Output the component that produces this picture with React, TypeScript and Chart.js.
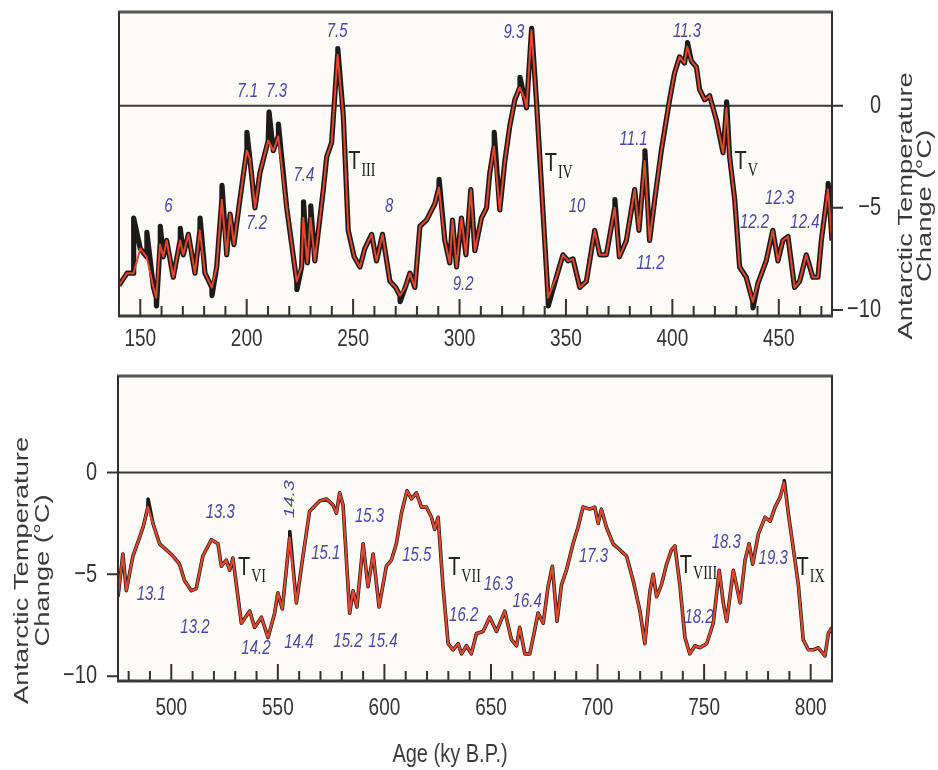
import React, { useEffect, useRef } from "react";
import { Chart, registerables } from "chart.js";

Chart.register(...registerables);

// ---------- DATA ----------
// Top panel (140–475 ky): smoothed (red) record
const topAge = [140, 143.8, 146.8, 150, 153, 156.2, 157.5, 159.3, 160.8, 162.4, 165.5, 168.7, 170.2, 172.6, 175.7, 178, 180.4, 183.6, 185.9, 188.3, 190.6, 192.2, 194, 196.8, 200, 201.5, 203.9, 206.2, 210.1, 212.5, 214.8, 218.8, 223.5, 225.8, 226.6, 228.5, 230, 232, 236, 237.6, 239.9, 242.7, 245.4, 247.7, 250.5, 253.2, 255.5, 258.7, 261, 263.8, 267.3, 270, 272, 274.5, 276.7, 279, 281.4, 284.5, 288.4, 290.3, 293.1, 295.4, 296.7, 298.6, 300.9, 303, 305.3, 307.2, 310.3, 312.7, 314.2, 316.2, 318.9, 321.3, 323.6, 326, 328.3, 330.7, 331.5, 333.8, 336.1, 341.6, 345.5, 348.6, 351, 353.3, 356.5, 359.6, 363.5, 365.9, 369, 372.9, 375.1, 378.4, 382.3, 384.3, 387, 389.3, 391.7, 394.8, 398.7, 401, 403.4, 405.7, 407, 408.9, 411.3, 412.8, 415.2, 417.5, 420.7, 423.8, 425.4, 426.9, 429.3, 431.6, 434.7, 437.8, 440.2, 444.1, 447.2, 449.6, 451.9, 454.3, 457.4, 459.8, 462.9, 466, 468.4, 470, 473.1, 475];
const topTemp = [-8.8, -8.2, -8.2, -7.0, -7.4, -8.9, -9.4, -6.8, -7.4, -6.6, -8.4, -6.6, -7.3, -6.3, -8.2, -6.1, -8.2, -8.9, -7.9, -4.6, -7.3, -5.3, -6.8, -4.6, -2.2, -2.6, -5.0, -3.3, -1.7, -2.2, -1.5, -5.0, -8.6, -7.9, -5.5, -7.7, -5.5, -7.6, -4.1, -2.5, -1.8, 2.5, -0.5, -6.1, -7.4, -7.9, -7.0, -6.3, -7.6, -6.3, -8.6, -8.9, -9.3, -8.9, -8.2, -8.9, -5.9, -5.6, -4.8, -4.0, -6.6, -7.7, -5.6, -7.9, -5.5, -7.3, -4.1, -7.1, -5.5, -5.0, -3.3, -2.0, -5.1, -2.7, -1.0, 0.3, 0.9, 0.3, -0.1, 3.7, 0.3, -9.4, -8.4, -7.3, -7.6, -7.5, -8.9, -8.6, -6.1, -7.3, -7.3, -5.0, -7.4, -6.6, -4.1, -6.1, -2.7, -6.6, -4.6, -2.2, 0.3, 1.6, 2.4, 2.1, 2.9, 2.2, 1.9, 0.8, 0.3, 0.5, -0.7, -2.3, -0.1, -2.5, -4.6, -7.9, -8.4, -9.6, -8.7, -7.6, -6.1, -7.6, -6.6, -6.4, -8.9, -8.6, -7.3, -8.4, -8.4, -6.6, -4.1, -6.6];
// Top panel: extra excursions of the raw (black) record
const topSpikeAge = [146.9, 153.1, 157.6, 159.4, 168.8, 178.1, 183.7, 188.4, 200.1, 210.5, 214.9, 223.6, 226.7, 230.1, 242.8, 272.1, 290.4, 316.3, 328.4, 333.9, 341.7, 373, 387.1, 407.1, 425.5, 437.9, 473.2];
const topSpikeTemp = [-5.5, -6.2, -9.8, -5.9, -6.0, -5.5, -9.3, -3.9, -1.3, -0.3, -0.9, -9.0, -4.7, -4.9, 2.8, -9.6, -3.6, -1.3, 1.4, 3.8, -9.8, -4.6, -2.2, 3.1, 0.2, -9.9, -3.8];

// Bottom panel (475–810 ky)
const botAge = [475, 477.3, 478.9, 482, 485.1, 487, 489, 491.4, 494.5, 497.7, 500.8, 503.9, 506.2, 509.4, 511.7, 514.8, 518.8, 521.9, 523.5, 525.8, 527.4, 528.9, 532.9, 536.8, 539.1, 542.3, 545.4, 548.5, 550, 552.1, 555.5, 558.7, 561.8, 564.9, 569.6, 572.8, 575.9, 577.5, 579, 580.6, 583.7, 585.3, 587.1, 590, 592.3, 594.7, 597.5, 600.9, 603.3, 605.6, 608, 610.6, 612.7, 615, 617.4, 619.7, 622.1, 623.6, 625.2, 627.5, 629.9, 632.2, 634.6, 636.2, 638.5, 640.8, 643.2, 646.3, 649.4, 652.6, 656.5, 659.6, 662, 663.5, 665.9, 668.2, 669.8, 672.1, 674.5, 676.8, 678.8, 681, 683.1, 685.4, 688.5, 690.8, 693.2, 696.3, 698.7, 700.3, 701.8, 704.2, 707.3, 710.5, 713.6, 716.7, 719.9, 722.2, 724.6, 726.1, 727.7, 730, 732.4, 734.7, 736.3, 738.6, 741, 743.3, 745.7, 748, 751.2, 754.3, 757.1, 759, 760.6, 763.7, 766.9, 769.2, 771.1, 772.8, 775.5, 778.6, 781, 783.3, 785.7, 787.5, 789.5, 791.8, 794.2, 796.5, 798.9, 801.2, 803.6, 806.7, 808.3, 810];
const botTemp = [-6.1, -4.0, -5.8, -4.1, -3.2, -2.6, -1.7, -2.5, -3.5, -3.8, -4.1, -4.5, -5.3, -5.8, -5.7, -4.1, -3.3, -3.5, -4.6, -4.3, -4.8, -4.2, -7.4, -6.8, -7.6, -7.1, -8.1, -6.9, -5.9, -6.7, -3.2, -6.4, -4.1, -1.9, -1.4, -1.3, -1.6, -2.0, -1.0, -1.6, -6.9, -5.8, -6.6, -3.5, -5.6, -4.0, -6.6, -4.6, -4.3, -3.5, -2.0, -0.9, -1.3, -1.0, -1.7, -1.7, -2.2, -2.8, -2.2, -5.6, -8.4, -8.7, -8.4, -8.9, -8.5, -8.9, -7.9, -7.8, -7.1, -7.8, -6.8, -8.2, -8.5, -7.6, -8.9, -8.9, -8.1, -6.9, -7.4, -5.6, -4.6, -7.3, -5.5, -4.8, -3.5, -2.7, -1.7, -1.8, -1.7, -2.5, -1.8, -2.7, -3.5, -3.8, -4.1, -5.3, -6.8, -8.4, -5.8, -5.0, -6.1, -5.5, -4.5, -3.8, -3.6, -5.5, -8.1, -8.9, -8.5, -8.6, -8.4, -7.4, -4.8, -6.4, -7.3, -4.8, -6.4, -4.3, -3.5, -4.5, -3.0, -2.2, -2.4, -1.7, -1.2, -0.5, -2.0, -3.7, -5.5, -8.2, -8.7, -8.7, -8.6, -9.0, -7.9, -7.6];
const botSpikeAge = [489.1, 555.6, 787.6];
const botSpikeTemp = [-1.3, -2.9, -0.4];

// Axis ticks
const topMajorTicks = [150, 200, 250, 300, 350, 400, 450];
const botMajorTicks = [500, 550, 600, 650, 700, 750, 800];
const yTickValues = [0, -5, -10];
const yTickLabels = ["0", "\u22125", "\u221210"];

// Stage annotations
const topStageLabels = ["6", "7.1", "7.3", "7.5", "7.2", "7.4", "8", "9.2", "9.3", "10", "11.1", "11.2", "11.3", "12.2", "12.3", "12.4"];
const topStageAge = [163.2, 200.4, 214.1, 242.5, 204.7, 226.9, 266.9, 301.7, 325.5, 355.2, 381.8, 389.7, 406.9, 438.6, 450.4, 462.3];
const topStageTemp = [-4.96, 0.7, 0.7, 3.62, -5.77, -3.4, -4.96, -8.77, 3.58, -4.96, -1.63, -7.71, 3.62, -5.74, -4.55, -5.74];
const botStageLabels = ["13.1", "13.3", "13.2", "14.2", "14.4", "15.1", "15.3", "15.2", "15.4", "15.5", "16.2", "16.3", "16.4", "17.3", "18.2", "18.3", "19.3"];
const botStageAge = [490.6, 523, 511.1, 539.7, 559.9, 572.5, 593, 582.9, 599.3, 615.2, 637.2, 653.5, 667, 698.1, 747.6, 760.4, 782.4];
const botStageTemp = [-5.98, -1.98, -7.59, -8.64, -8.36, -3.97, -2.17, -8.32, -8.32, -4.06, -7.01, -5.49, -6.32, -4.15, -7.1, -3.45, -4.23];
const botRotLabels = ["14.3"];
const botRotAge = [555.4];
const botRotTemp = [-1.31];

// Terminations
const topTermNames = ["III", "IV", "V"];
const topTermAge = [247.7, 340, 429.2];
const topTermTemp = [-2.75, -2.85, -2.74];
const botTermNames = ["VI", "VII", "VIII", "IX"];
const botTermAge = [531.3, 629.9, 738.6, 793.4];
const botTermTemp = [-4.68, -4.7, -4.56, -4.68];

// ---------- STYLE ----------
const RED = "#e3472c";
const BLUE = "#4a47a3";
const INK = "#333333";
const SANS = "Arial, 'Liberation Sans', Helvetica, sans-serif";
const SERIF = "'Times New Roman', 'Liberation Serif', serif";
const SY = 1.3;

function pts(xs: number[], ys: number[]) {
  return xs.map((x, i) => ({ x, y: ys[i] }));
}
function merged(xs: number[], ys: number[], sx: number[], sy: number[]) {
  return pts(xs, ys).concat(pts(sx, sy)).sort((a, b) => a.x - b.x);
}

function txt(ctx: CanvasRenderingContext2D, s: string, x: number, y: number, font: string, color: string, align: CanvasTextAlign, sy = SY) {
  ctx.save();
  ctx.font = font;
  ctx.fillStyle = color;
  ctx.textAlign = align;
  ctx.textBaseline = "middle";
  ctx.translate(x, y);
  ctx.scale(1, sy);
  ctx.fillText(s, 0, 0);
  ctx.restore();
}
// rotated text; baseline option lets the glyph baseline sit at x
function rotTxt(ctx: CanvasRenderingContext2D, s: string, x: number, y: number, font: string, color: string, baseline: CanvasTextBaseline = "middle", sx = SY) {
  ctx.save();
  ctx.font = font;
  ctx.fillStyle = color;
  ctx.textAlign = "center";
  ctx.textBaseline = baseline;
  ctx.translate(x, y);
  ctx.rotate(-Math.PI / 2);
  ctx.scale(sx, 1);
  ctx.fillText(s, 0, 0);
  ctx.restore();
}

type Panel = {
  side: "left" | "right";
  majors: number[];
  xLabelDy: number;
  titleX: [number, number];
  titleDy: number;
  stages: { l: string[]; a: number[]; t: number[] };
  rot?: { l: string[]; a: number[]; t: number[] };
  terms: { l: string[]; a: number[]; t: number[] };
  xTitle?: { x: number; y: number };
};

function makeDecor(p: Panel) {
  return {
    id: "decor",
    beforeDraw(chart: any) {
      const { ctx, chartArea: a } = chart;
      ctx.save();
      ctx.fillStyle = "#fcfbf7";
      ctx.fillRect(a.left, a.top, a.right - a.left, a.bottom - a.top);
      ctx.restore();
    },
    beforeDatasetsDraw(chart: any) {
      const { ctx, chartArea: a, scales } = chart;
      const y0 = scales.y.getPixelForValue(0);
      ctx.save();
      ctx.strokeStyle = "#3a3a3a";
      ctx.lineWidth = 2;
      ctx.beginPath();
      ctx.moveTo(a.left, y0);
      ctx.lineTo(a.right, y0);
      ctx.stroke();
      ctx.restore();
    },
    afterDatasetsDraw(chart: any) {
      const { ctx, chartArea: a, scales } = chart;
      const xs = scales.x;
      const ys = scales.y;
      ctx.save();
      ctx.lineCap = "butt";
      ctx.strokeStyle = "#555";
      ctx.lineWidth = 3;
      ctx.beginPath();
      ctx.moveTo(a.left - 1, a.top);
      ctx.lineTo(a.right + 1, a.top);
      ctx.stroke();
      ctx.strokeStyle = "#2e2e2e";
      ctx.lineWidth = 2;
      ctx.beginPath();
      ctx.moveTo(a.left, a.top);
      ctx.lineTo(a.left, a.bottom);
      ctx.moveTo(a.right, a.top);
      ctx.lineTo(a.right, a.bottom);
      ctx.stroke();
      ctx.strokeStyle = "#3a3a3a";
      ctx.lineWidth = 3;
      ctx.beginPath();
      ctx.moveTo(a.left - 1, a.bottom);
      ctx.lineTo(a.right + 1, a.bottom);
      ctx.stroke();
      // x ticks (inward)
      ctx.strokeStyle = "#333";
      ctx.lineWidth = 2;
      ctx.beginPath();
      for (let v = Math.ceil(xs.min / 10) * 10; v <= xs.max; v += 10) {
        const px = xs.getPixelForValue(v);
        const len = v % 50 === 0 ? 17 : 10;
        ctx.moveTo(px, a.bottom);
        ctx.lineTo(px, a.bottom - len);
      }
      ctx.stroke();
      // y ticks (outward)
      ctx.beginPath();
      yTickValues.forEach((v) => {
        const py = ys.getPixelForValue(v);
        if (p.side === "right") {
          ctx.moveTo(a.right, py);
          ctx.lineTo(a.right + 11, py);
        } else {
          ctx.moveTo(a.left, py);
          ctx.lineTo(a.left - 11, py);
        }
      });
      ctx.stroke();
      ctx.restore();

      // x tick labels
      p.majors.forEach((v) => {
        txt(ctx, String(v), xs.getPixelForValue(v), a.bottom + p.xLabelDy, `19px ${SANS}`, INK, "center");
      });
      // y tick labels
      yTickValues.forEach((v, i) => {
        const py = ys.getPixelForValue(v);
        if (p.side === "right") txt(ctx, yTickLabels[i], a.right + 49, py, `20px ${SANS}`, INK, "right");
        else txt(ctx, yTickLabels[i], a.left - 21, py, `20px ${SANS}`, INK, "right");
      });
      // y title (two lines, glyph baselines at titleX)
      const tc = ys.getPixelForValue(-5) + p.titleDy;
      rotTxt(ctx, "Antarctic Temperature", p.titleX[0], tc, `21px ${SANS}`, "#3a3a3a", "alphabetic");
      rotTxt(ctx, "Change (\u00b0C)", p.titleX[1], tc, `21px ${SANS}`, "#3a3a3a", "alphabetic");
      if (p.xTitle) {
        txt(ctx, "Age (ky B.P.)", p.xTitle.x, p.xTitle.y, `20px ${SANS}`, "#3a3a3a", "center");
      }
      // stage labels
      p.stages.l.forEach((s, i) => {
        txt(ctx, s, xs.getPixelForValue(p.stages.a[i]), ys.getPixelForValue(p.stages.t[i]), `italic 15px ${SANS}`, BLUE, "center");
      });
      if (p.rot) {
        p.rot.l.forEach((s, i) => {
          rotTxt(ctx, s, xs.getPixelForValue(p.rot!.a[i]), ys.getPixelForValue(p.rot!.t[i]), `italic 15px ${SANS}`, BLUE);
        });
      }
      // terminations
      p.terms.l.forEach((s, i) => {
        const x = xs.getPixelForValue(p.terms.a[i]);
        const y = ys.getPixelForValue(p.terms.t[i]);
        txt(ctx, "T", x, y, `20px ${SANS}`, "#222", "left");
        ctx.save();
        ctx.font = `20px ${SANS}`;
        const w = ctx.measureText("T").width;
        ctx.restore();
        txt(ctx, s, x + w + 1, y + 9, `14px ${SERIF}`, "#222", "left", 1.35);
      });
    },
  };
}

function useChart(ref: React.RefObject<HTMLCanvasElement>, cfg: () => any) {
  useEffect(() => {
    if (!ref.current) return;
    const c = new Chart(ref.current, cfg());
    return () => c.destroy();
  }, []);
}

function datasets(red: any[], black: any[], redWidth: number, blackWidth: number) {
  return [
    { data: red, borderColor: RED, borderWidth: redWidth, pointRadius: 0, tension: 0, order: 0, borderJoinStyle: "round" },
    { data: black, borderColor: "#1e1a1a", borderWidth: blackWidth, pointRadius: 0, tension: 0, order: 1, borderJoinStyle: "round" },
  ];
}

export default function App() {
  const topRef = useRef<HTMLCanvasElement>(null);
  const botRef = useRef<HTMLCanvasElement>(null);

  useChart(topRef, () => ({
    type: "line",
    data: { datasets: datasets(pts(topAge, topTemp), merged(topAge, topTemp, topSpikeAge, topSpikeTemp), 2, 5.2) },
    options: {
      animation: false,
      responsive: false,
      events: [],
      layout: { padding: { left: 119, right: 106, top: 12, bottom: 44 } },
      scales: {
        x: { type: "linear", min: 140, max: 475, display: false },
        y: { type: "linear", min: -10.3, max: 4.6, display: false },
      },
      plugins: { legend: { display: false }, tooltip: { enabled: false } },
    },
    plugins: [
      makeDecor({
        side: "right",
        majors: topMajorTicks,
        xLabelDy: 23,
        titleX: [912, 931],
        titleDy: -2,
        stages: { l: topStageLabels, a: topStageAge, t: topStageTemp },
        terms: { l: topTermNames, a: topTermAge, t: topTermTemp },
      }),
    ],
  }));

  useChart(botRef, () => ({
    type: "line",
    data: { datasets: datasets(pts(botAge, botTemp), merged(botAge, botTemp, botSpikeAge, botSpikeTemp), 2.2, 3.6) },
    options: {
      animation: false,
      responsive: false,
      events: [],
      layout: { padding: { left: 118, right: 106, top: 16, bottom: 89 } },
      scales: {
        x: { type: "linear", min: 475, max: 810, display: false },
        y: { type: "linear", min: -10.23, max: 4.73, display: false },
      },
      plugins: { legend: { display: false }, tooltip: { enabled: false } },
    },
    plugins: [
      makeDecor({
        side: "left",
        majors: botMajorTicks,
        xLabelDy: 27,
        titleX: [28, 49],
        titleDy: -4,
        stages: { l: botStageLabels, a: botStageAge, t: botStageTemp },
        rot: { l: botRotLabels, a: botRotAge, t: botRotTemp },
        terms: { l: botTermNames, a: botTermAge, t: botTermTemp },
        xTitle: { x: 450, y: 395 },
      }),
    ],
  }));

  return (
    <div style={{ position: "absolute", left: 0, top: 0, width: 938, height: 770, background: "#ffffff" }}>
      <canvas ref={topRef} width={938} height={360} style={{ position: "absolute", left: 0, top: 0, display: "block" }} />
      <canvas ref={botRef} width={938} height={410} style={{ position: "absolute", left: 0, top: 360, display: "block" }} />
    </div>
  );
}
